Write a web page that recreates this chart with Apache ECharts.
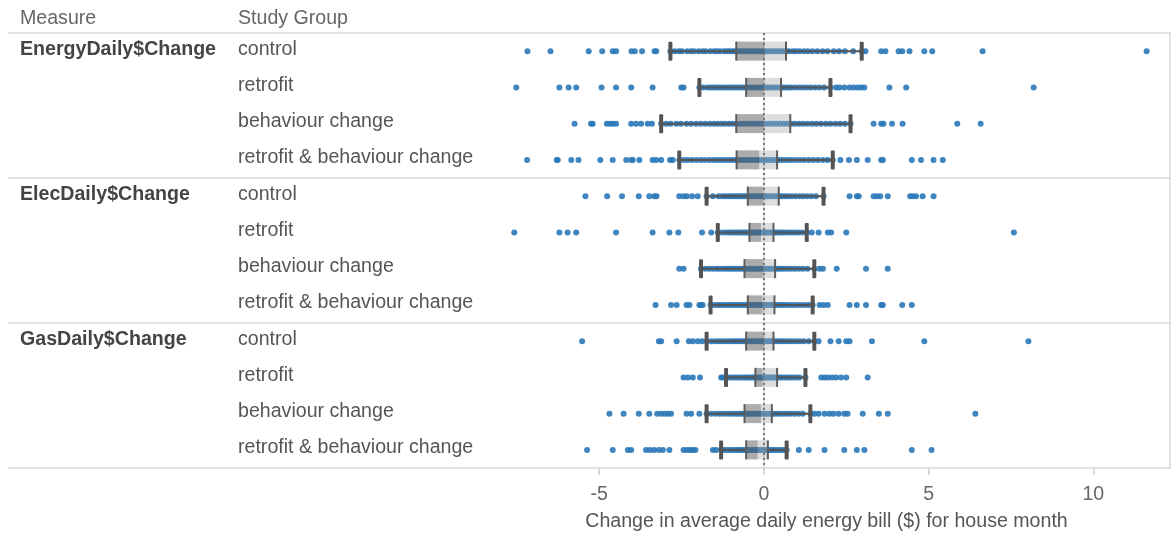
<!DOCTYPE html>
<html>
<head>
<meta charset="utf-8">
<script src="https://cdn.jsdelivr.net/npm/echarts@6/dist/echarts.min.js"></script>
<style>
  html, body { margin: 0; padding: 0; background: #fff; }
  #chart { width: 1171px; height: 535px; }
</style>
</head>
<body>
<div id="chart"></div>
<script>
// Row headers
const measures = ['EnergyDaily$Change', 'ElecDaily$Change', 'GasDaily$Change'];
const groups = ['control', 'retrofit', 'behaviour change', 'retrofit & behaviour change'];

// Box statistics per row (measure x study group, top to bottom)
const lowerWhisker = [-2.84, -1.96, -3.12, -2.57, -1.74, -1.40, -1.91, -1.62, -1.74, -1.15, -1.74, -1.30];
const quartile1    = [-0.84, -0.54, -0.84, -0.83, -0.49, -0.44, -0.59, -0.49, -0.54, -0.26, -0.59, -0.54];
const medians      = [ 0.02,  0.00,  0.00, -0.14, -0.02, -0.09, -0.02, -0.04,  0.00, -0.04, -0.09, -0.19];
const quartile3    = [ 0.67,  0.52,  0.80,  0.40,  0.45,  0.29,  0.34,  0.32,  0.29,  0.40,  0.24,  0.12];
const upperWhisker = [ 2.97,  2.02,  2.63,  2.09,  1.81,  1.30,  1.53,  1.48,  1.53,  1.26,  1.41,  0.69];

// House-month changes ($/day)
const energyControl = [-7.18, -6.48, -5.32, -4.91, -4.59, -4.49, -4.02, -3.92, -3.70, -3.32, -3.27, -2.84, -2.71, -2.58, -2.49, -2.33, -2.21, -2.12, -1.98, -1.86, -1.77, -1.63, -1.51, -1.42, -1.33, -1.21, -1.12, -1.04, -0.95, -0.88, -0.79, -0.71, -0.62, -0.55, -0.47, -0.38, -0.31, -0.22, -0.15, -0.07, 0.02, 0.09, 0.17, 0.26, 0.33, 0.41, 0.50, 0.58, 0.67, 0.76, 0.88, 0.97, 1.08, 1.21, 1.33, 1.47, 1.62, 1.78, 1.93, 2.12, 2.28, 2.46, 2.71, 2.97, 3.08, 3.56, 3.69, 4.09, 4.20, 4.42, 4.87, 5.11, 6.64, 11.62];
const energyRetrofit = [-7.52, -6.21, -5.93, -5.70, -4.93, -4.49, -4.03, -3.38, -2.51, -2.44, -1.96, -1.84, -1.71, -1.62, -1.53, -1.44, -1.37, -1.28, -1.19, -1.11, -1.02, -0.94, -0.86, -0.77, -0.69, -0.61, -0.52, -0.44, -0.36, -0.27, -0.19, -0.11, -0.04, 0.05, 0.12, 0.21, 0.29, 0.37, 0.46, 0.55, 0.63, 0.72, 0.81, 0.93, 1.05, 1.16, 1.28, 1.41, 1.55, 1.68, 1.83, 2.02, 2.19, 2.29, 2.44, 2.60, 2.72, 2.85, 2.95, 3.05, 3.81, 4.32, 8.19];
const energyBehaviour = [-5.75, -5.25, -5.20, -4.77, -4.67, -4.59, -4.49, -4.03, -3.88, -3.73, -3.53, -3.40, -3.12, -2.97, -2.83, -2.66, -2.52, -2.35, -2.21, -2.06, -1.92, -1.78, -1.64, -1.52, -1.41, -1.29, -1.18, -1.06, -0.95, -0.84, -0.73, -0.61, -0.49, -0.38, -0.27, -0.16, -0.06, 0.05, 0.16, 0.27, 0.38, 0.49, 0.61, 0.72, 0.84, 0.95, 1.07, 1.19, 1.32, 1.46, 1.59, 1.73, 1.88, 2.02, 2.17, 2.31, 2.46, 2.63, 3.33, 3.56, 3.63, 3.89, 4.21, 5.87, 6.58];
const energyBoth = [-7.19, -6.29, -6.26, -5.85, -5.63, -4.97, -4.59, -4.18, -4.03, -3.98, -3.78, -3.38, -3.27, -3.12, -2.85, -2.77, -2.57, -2.43, -2.31, -2.18, -2.04, -1.91, -1.79, -1.66, -1.54, -1.43, -1.31, -1.20, -1.09, -0.98, -0.88, -0.78, -0.68, -0.58, -0.49, -0.40, -0.31, -0.22, -0.13, -0.05, 0.04, 0.13, 0.22, 0.31, 0.40, 0.50, 0.61, 0.72, 0.84, 0.96, 1.09, 1.22, 1.36, 1.50, 1.64, 1.79, 1.93, 2.09, 2.32, 2.58, 2.82, 3.15, 3.56, 3.61, 4.49, 4.77, 5.15, 5.43];
const elecControl = [-5.42, -4.76, -4.31, -3.80, -3.48, -3.33, -3.26, -2.57, -2.44, -2.34, -2.18, -2.01, -1.74, -1.55, -1.38, -1.27, -1.18, -1.09, -1.01, -0.93, -0.85, -0.77, -0.69, -0.61, -0.54, -0.46, -0.39, -0.31, -0.24, -0.17, -0.10, -0.03, 0.04, 0.11, 0.18, 0.26, 0.33, 0.41, 0.49, 0.57, 0.66, 0.75, 0.85, 0.96, 1.08, 1.19, 1.31, 1.44, 1.58, 1.81, 2.60, 2.82, 2.88, 3.33, 3.43, 3.53, 3.76, 4.44, 4.52, 4.62, 4.82, 5.15];
const elecRetrofit = [-7.58, -6.21, -5.96, -5.70, -4.49, -3.38, -2.87, -2.60, -1.88, -1.60, -1.40, -1.27, -1.16, -1.07, -0.99, -0.91, -0.84, -0.77, -0.70, -0.63, -0.56, -0.49, -0.42, -0.36, -0.30, -0.24, -0.18, -0.12, -0.06, 0.00, 0.06, 0.12, 0.18, 0.25, 0.31, 0.38, 0.45, 0.52, 0.60, 0.68, 0.77, 0.86, 0.95, 1.05, 1.16, 1.30, 1.45, 1.66, 1.94, 2.04, 2.50, 7.59];
const elecBehaviour = [-2.57, -2.44, -1.91, -1.78, -1.66, -1.55, -1.44, -1.35, -1.25, -1.16, -1.07, -0.98, -0.90, -0.82, -0.74, -0.66, -0.58, -0.50, -0.42, -0.35, -0.27, -0.20, -0.13, -0.06, 0.01, 0.08, 0.15, 0.22, 0.30, 0.37, 0.45, 0.53, 0.62, 0.72, 0.83, 0.94, 1.06, 1.18, 1.32, 1.53, 1.69, 1.79, 2.21, 3.10, 3.76];
const elecBoth = [-3.29, -2.82, -2.65, -2.35, -2.26, -1.96, -1.91, -1.86, -1.62, -1.51, -1.41, -1.32, -1.23, -1.14, -1.06, -0.98, -0.90, -0.82, -0.74, -0.66, -0.58, -0.50, -0.43, -0.36, -0.29, -0.22, -0.15, -0.08, -0.01, 0.06, 0.13, 0.20, 0.27, 0.34, 0.42, 0.50, 0.59, 0.68, 0.78, 0.89, 1.00, 1.12, 1.24, 1.36, 1.48, 1.69, 1.81, 1.94, 2.60, 2.82, 3.10, 3.56, 3.61, 4.20, 4.49];
const gasControl = [-5.52, -3.19, -3.12, -2.65, -2.28, -2.16, -2.01, -1.88, -1.74, -1.60, -1.48, -1.37, -1.27, -1.17, -1.08, -0.99, -0.91, -0.83, -0.75, -0.67, -0.59, -0.52, -0.45, -0.38, -0.31, -0.24, -0.17, -0.10, -0.03, 0.04, 0.11, 0.18, 0.25, 0.32, 0.40, 0.48, 0.57, 0.66, 0.76, 0.86, 0.97, 1.09, 1.21, 1.36, 1.53, 1.66, 2.02, 2.27, 2.50, 2.60, 3.28, 4.87, 8.03];
const gasRetrofit = [-2.44, -2.31, -2.16, -1.94, -1.30, -1.25, -1.15, -1.05, -0.96, -0.88, -0.80, -0.72, -0.65, -0.58, -0.51, -0.44, -0.38, -0.32, -0.26, -0.20, -0.14, -0.08, -0.02, 0.04, 0.10, 0.16, 0.22, 0.28, 0.34, 0.41, 0.48, 0.55, 0.63, 0.71, 0.80, 0.89, 0.98, 1.08, 1.26, 1.74, 1.84, 1.94, 2.07, 2.19, 2.34, 2.50, 3.15];
const gasBehaviour = [-4.69, -4.26, -3.80, -3.48, -3.24, -3.12, -3.02, -2.92, -2.82, -2.35, -2.21, -1.96, -1.74, -1.60, -1.47, -1.35, -1.24, -1.13, -1.03, -0.94, -0.85, -0.76, -0.68, -0.60, -0.52, -0.45, -0.38, -0.31, -0.24, -0.17, -0.10, -0.03, 0.04, 0.11, 0.18, 0.25, 0.33, 0.41, 0.50, 0.60, 0.70, 0.81, 0.93, 1.05, 1.18, 1.41, 1.53, 1.66, 1.84, 1.99, 2.11, 2.27, 2.44, 2.54, 3.00, 3.49, 3.76, 6.42];
const gasBoth = [-5.37, -4.59, -4.13, -4.03, -3.58, -3.46, -3.33, -3.19, -3.07, -2.87, -2.44, -2.34, -2.24, -2.16, -2.08, -1.55, -1.45, -1.30, -1.20, -1.11, -1.02, -0.94, -0.86, -0.79, -0.72, -0.65, -0.58, -0.52, -0.46, -0.40, -0.34, -0.28, -0.22, -0.16, -0.10, -0.04, 0.02, 0.08, 0.14, 0.21, 0.28, 0.36, 0.44, 0.53, 0.61, 0.69, 1.06, 1.36, 1.84, 2.44, 2.82, 3.05, 4.49, 5.09];

const xTicks = [-5, 0, 5, 10];
const xTitle = 'Change in average daily energy bill ($) for house month';

const rowValues = [
  energyControl, energyRetrofit, energyBehaviour, energyBoth,
  elecControl, elecRetrofit, elecBehaviour, elecBoth,
  gasControl, gasRetrofit, gasBehaviour, gasBoth
];

// Layout
const W = 1171, H = 535;
const gridLeft = 482, gridTop = 33, gridBottomY = 468;
const rowH = (gridBottomY - gridTop) / 12;
const FONT = '"Liberation Sans", Arial, sans-serif';
const FS = 19.6;
const lineColor = '#d8d8d8';

const rowKeys = [];
measures.forEach(m => groups.forEach(g => rowKeys.push(m + ' / ' + g)));

const pointData = [];
rowValues.forEach((vals, r) => vals.forEach(v => pointData.push([v, r])));

const boxData = rowKeys.map((k, r) => [r, lowerWhisker[r], quartile1[r], medians[r], quartile3[r], upperWhisker[r]]);

function renderBox(params, api) {
  const r = api.value(0);
  const pLw = api.coord([api.value(1), r]);
  const pQ1 = api.coord([api.value(2), r]);
  const pMed = api.coord([api.value(3), r]);
  const pQ3 = api.coord([api.value(4), r]);
  const pUw = api.coord([api.value(5), r]);
  const y = pLw[1];
  const bh = 19, ch = 19;
  const dark = '#545454';
  return {
    type: 'group',
    children: [
      { type: 'line', shape: { x1: pLw[0], y1: y, x2: pQ1[0], y2: y }, style: { stroke: dark, lineWidth: 2 } },
      { type: 'line', shape: { x1: pQ3[0], y1: y, x2: pUw[0], y2: y }, style: { stroke: dark, lineWidth: 2 } },
      { type: 'rect', shape: { x: pQ1[0], y: y - bh / 2, width: pMed[0] - pQ1[0], height: bh },
        style: { fill: 'rgba(95,95,95,0.52)' } },
      { type: 'rect', shape: { x: pMed[0], y: y - bh / 2, width: pQ3[0] - pMed[0], height: bh },
        style: { fill: 'rgba(170,170,170,0.4)' } },
      { type: 'line', shape: { x1: pQ1[0], y1: y - bh / 2, x2: pQ1[0], y2: y + bh / 2 }, style: { stroke: '#5c5c5c', lineWidth: 2 } },
      { type: 'line', shape: { x1: pQ3[0], y1: y - bh / 2, x2: pQ3[0], y2: y + bh / 2 }, style: { stroke: '#5c5c5c', lineWidth: 2 } },
      { type: 'rect', shape: { x: pLw[0] - 2, y: y - ch / 2, width: 4, height: ch, r: 1 }, style: { fill: dark } },
      { type: 'rect', shape: { x: pUw[0] - 2, y: y - ch / 2, width: 4, height: ch, r: 1 }, style: { fill: dark } }
    ]
  };
}

// Table rules and headers
const graphics = [
  { type: 'text', left: 20, top: 9, style: { text: 'Measure', font: FS + 'px ' + FONT, fill: '#666' } },
  { type: 'text', left: 238, top: 9, style: { text: 'Study Group', font: FS + 'px ' + FONT, fill: '#666' } },
  { type: 'line', shape: { x1: W - 1, y1: gridTop, x2: W - 1, y2: gridBottomY }, style: { stroke: lineColor, lineWidth: 1.5 } }
];
for (let k = 0; k <= 3; k++) {
  const y = gridTop + k * 4 * rowH;
  graphics.push({ type: 'line', shape: { x1: 8, y1: y, x2: W, y2: y }, style: { stroke: lineColor, lineWidth: 1.5 }, z: 0 });
}

const chart = echarts.init(document.getElementById('chart'), null, { renderer: 'canvas' });
chart.setOption({
  animation: false,
  backgroundColor: '#fff',
  textStyle: { fontFamily: FONT },
  graphic: graphics,
  grid: {
    left: gridLeft, right: 0, top: gridTop, bottom: H - gridBottomY,
    containLabel: false, outerBoundsMode: 'none'
  },
  xAxis: {
    type: 'value',
    min: -8.56, max: 12.36,
    axisLine: { show: false },
    splitLine: { show: false },
    axisTick: { show: true, customValues: xTicks, length: 7, lineStyle: { color: '#cfcfcf', width: 1.5 } },
    axisLabel: { customValues: xTicks, margin: 17, fontSize: 19.5, color: '#666', fontFamily: FONT },
    name: xTitle,
    nameLocation: 'middle',
    nameGap: 44,
    nameTextStyle: { fontSize: FS, color: '#555', fontFamily: FONT }
  },
  yAxis: {
    type: 'category',
    data: rowKeys,
    inverse: true,
    axisLine: { show: true, lineStyle: { color: lineColor, width: 1.5 } },
    axisTick: { show: false },
    splitLine: { show: false },
    axisLabel: {
      align: 'left',
      margin: gridLeft - 20,
      interval: 0,
      padding: [0, 0, 4, 0],
      formatter: (val, idx) => {
        const m = idx % 4 === 0 ? measures[Math.floor(idx / 4)] : '\u00a0';
        return '{m|' + m + '}{g|' + groups[idx % 4] + '}';
      },
      rich: {
        m: { width: 218, fontSize: FS, fontWeight: 'bold', color: '#444', fontFamily: FONT },
        g: { fontSize: FS, color: '#555', fontFamily: FONT }
      }
    }
  },
  series: [
    {
      type: 'scatter',
      data: pointData,
      symbolSize: 6,
      itemStyle: { color: '#2a78b8', opacity: 0.9 },
      z: 2,
      silent: true,
      markLine: {
        silent: true,
        symbol: 'none',
        label: { show: false },
        lineStyle: { color: '#777', type: [2, 3], width: 2 },
        data: [{ xAxis: 0 }]
      }
    },
    {
      type: 'custom',
      data: boxData,
      renderItem: renderBox,
      encode: { x: [1, 2, 3, 4, 5], y: 0 },
      z: 3,
      silent: true
    }
  ]
});
</script>
</body>
</html>
